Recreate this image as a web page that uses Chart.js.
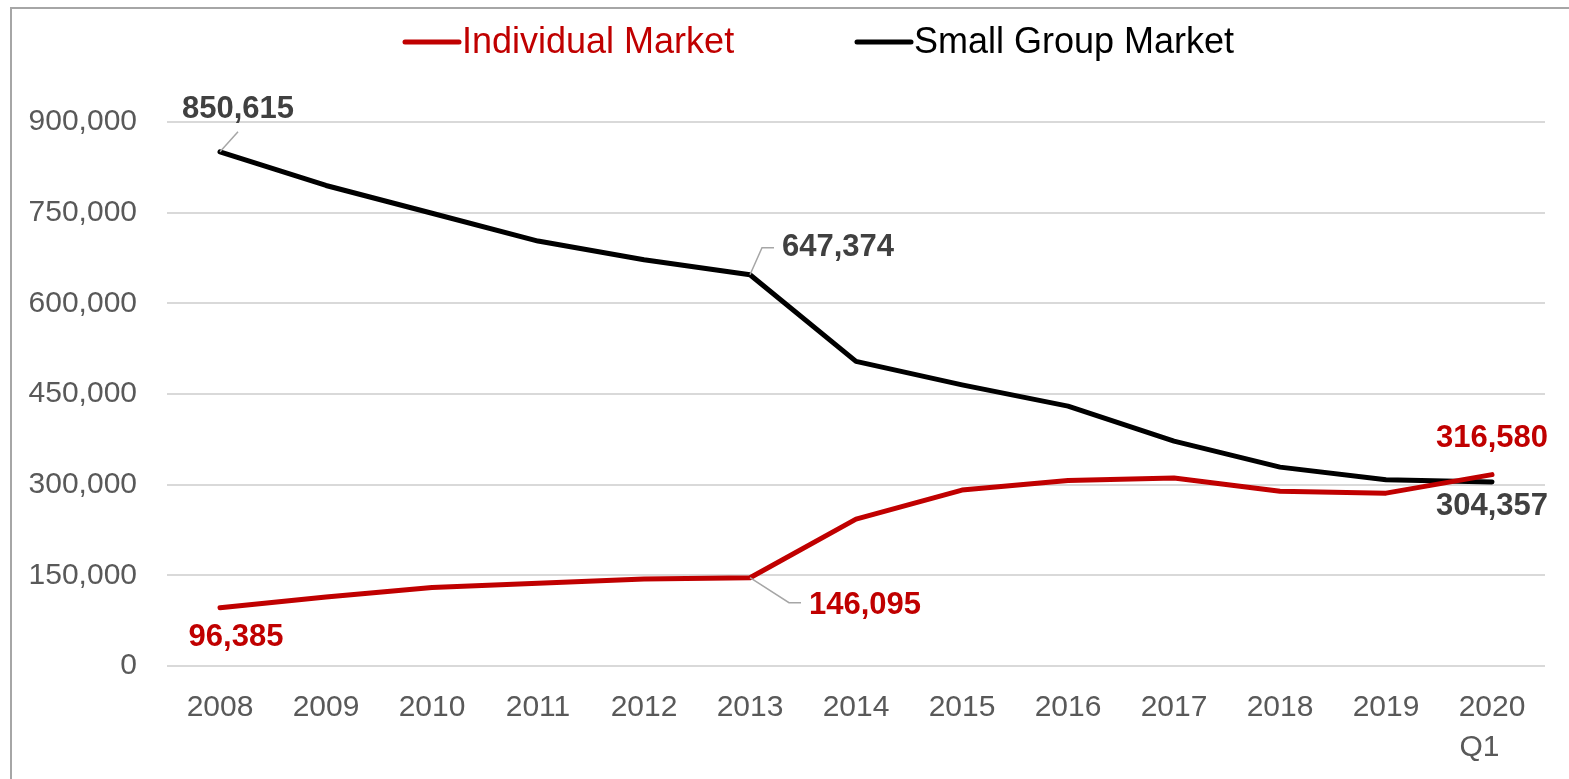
<!DOCTYPE html>
<html>
<head>
<meta charset="utf-8">
<script src="https://cdn.jsdelivr.net/npm/chart.js@4.4.1/dist/chart.umd.min.js"></script>
<style>
  html,body{margin:0;padding:0;background:#fff;overflow:hidden;}
  #wrap{position:absolute;left:0;top:0;width:1569px;height:779px;}
  #frame{position:absolute;left:10px;top:7px;width:1600px;height:800px;border:2px solid #A6A6A6;box-sizing:border-box;pointer-events:none;}
</style>
</head>
<body>
<div id="wrap">
  <canvas id="c" width="1569" height="779"></canvas>
  <div id="frame"></div>
</div>
<script>
(() => {
  "use strict";

  const YEARS = ["2008","2009","2010","2011","2012","2013","2014","2015","2016","2017","2018","2019",["2020","Q1   "]];
  const INDIVIDUAL = [96385,114000,130000,137000,144000,146095,243000,291000,307000,311000,289000,286000,316580];
  const SMALL_GROUP = [850615,795000,749000,703000,672000,647374,504000,465000,430000,372000,329000,308000,304357];
  const Y_TICKS = [0,150000,300000,450000,600000,750000,900000];

  const RED = "#C00000", BLACK = "#000000", LABEL_GREY = "#404040";
  const FONT = "'Liberation Sans', Arial, sans-serif";

  // value callouts: offsets from the point, optional leader line
  const CALLOUTS = [
    {ds:1, i:0,  dx:18, dy:-42, align:"center", color:LABEL_GREY, leader:[[0,0],[18,-20]]},
    {ds:1, i:5,  dx:32, dy:-27, align:"left",   color:LABEL_GREY, leader:[[0,0],[12,-27],[24,-27]]},
    {ds:0, i:5,  dx:59, dy:28,  align:"left",   color:RED,        leader:[[0,0],[39,25],[51,25]]},
    {ds:0, i:0,  dx:16, dy:30,  align:"center", color:RED},
    {ds:0, i:12, dx:0,  dy:-36, align:"center", color:RED},
    {ds:1, i:12, dx:0,  dy:24,  align:"center", color:LABEL_GREY}
  ];

  const fmt = (v)=>v.toLocaleString("en-US");

  const calloutPlugin = {
    id:"callouts",
    afterDatasetsDraw(chart){
      const ctx = chart.ctx;
      ctx.save();
      CALLOUTS.forEach(c=>{
        const el = chart.getDatasetMeta(c.ds).data[c.i];
        const v = chart.data.datasets[c.ds].data[c.i];
        const x = el.x, y = el.y;
        if(c.leader){
          ctx.strokeStyle = "#A6A6A6";
          ctx.lineWidth = 1.5;
          ctx.beginPath();
          c.leader.forEach((p,k)=>{ k ? ctx.lineTo(x+p[0], y+p[1]) : ctx.moveTo(x+p[0], y+p[1]); });
          ctx.stroke();
        }
        ctx.font = `bold 31px ${FONT}`;
        ctx.fillStyle = c.color;
        ctx.textAlign = c.align;
        ctx.textBaseline = "middle";
        ctx.fillText(fmt(v), x + c.dx, y + c.dy);
      });
      ctx.restore();
    }
  };

  const legendPlugin = {
    id:"customLegend",
    afterDraw(chart){
      const ctx = chart.ctx;
      const items = [
        {text:chart.data.datasets[0].label, color:RED, x:403},
        {text:chart.data.datasets[1].label, color:BLACK, x:855}
      ];
      ctx.save();
      ctx.font = `36px ${FONT}`;
      ctx.textBaseline = "middle";
      ctx.textAlign = "left";
      items.forEach(it=>{
        ctx.strokeStyle = it.color;
        ctx.lineWidth = 5;
        ctx.lineCap = "round";
        ctx.beginPath();
        ctx.moveTo(it.x+2, 42); ctx.lineTo(it.x+56, 42);
        ctx.stroke();
        ctx.fillStyle = it.color;
        ctx.fillText(it.text, it.x+59, 43);
      });
      ctx.restore();
    }
  };

  new Chart(document.getElementById("c"), {
    type:"line",
    data:{
      labels:YEARS,
      datasets:[
        {label:"Individual Market", data:INDIVIDUAL, borderColor:RED, backgroundColor:RED, borderWidth:5, pointRadius:0, tension:0, borderCapStyle:"round", borderJoinStyle:"round"},
        {label:"Small Group Market", data:SMALL_GROUP, borderColor:BLACK, backgroundColor:BLACK, borderWidth:5, pointRadius:0, tension:0, borderCapStyle:"round", borderJoinStyle:"round"}
      ]
    },
    options:{
      responsive:false,
      animation:false,
      devicePixelRatio:1,
      layout:{padding:{top:122, left:0, right:24, bottom:0}},
      plugins:{legend:{display:false}, tooltip:{enabled:false}},
      scales:{
        x:{
          offset:true,
          grid:{display:false, drawTicks:false},
          border:{display:false},
          ticks:{color:"#595959", font:{family:FONT, size:30, lineHeight:1.33}, padding:22, maxRotation:0, autoSkip:false},
          afterFit(s){ s.height = 113; }
        },
        y:{
          min:0, max:900000,
          afterBuildTicks(s){ s.ticks = Y_TICKS.map(v=>({value:v})); },
          grid:{color:"#D9D9D9", lineWidth:2, drawTicks:false},
          border:{display:false},
          ticks:{color:"#595959", font:{family:FONT, size:30}, padding:30, callback:(v)=>fmt(v)},
          afterFit(s){ s.width = 167; }
        }
      }
    },
    plugins:[calloutPlugin, legendPlugin]
  });
})();
</script>
</body>
</html>
